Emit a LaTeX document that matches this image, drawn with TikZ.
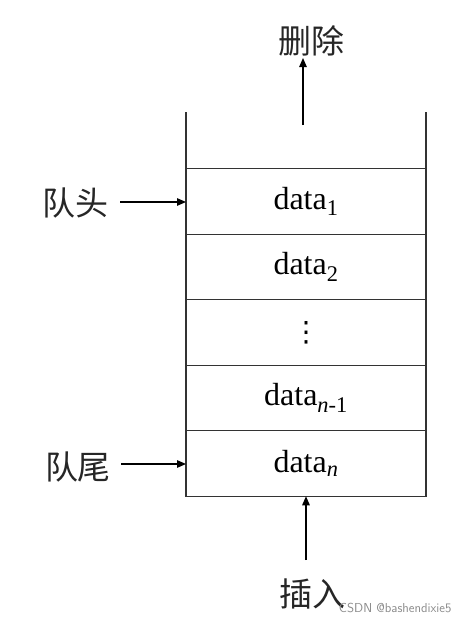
\documentclass[tikz,border=0pt]{standalone}
\usepackage{fontspec}
\setmainfont{Liberation Serif}
\newfontfamily\cjk{Noto Sans CJK SC}
\newfontfamily\symb{DejaVu Sans}
\usetikzlibrary{arrows.meta, positioning}
\definecolor{lineDark}{HTML}{333333}
\definecolor{markGray}{HTML}{8A8A8A}
\tikzset{
  arrowK/.style={-{Triangle[length=9pt, width=7.5pt]}, black, line width=1.2pt},
  cellBox/.style={rectangle, draw=lineDark, line width=1.2pt, minimum width=240pt,
                  minimum height=65.5pt, inner sep=0pt, outer sep=0pt,
                  font=\fontsize{32}{34}\selectfont},
  labelCn/.style={font=\cjk\fontsize{33}{35}\selectfont, text=black!85, inner sep=2pt},
}
\begin{document}
\begin{tikzpicture}[x=1pt, y=-1pt]
    \useasboundingbox (0,0) rectangle (467,624);
    % queue cells
    \node[cellBox] (c1) at (306,201.5) {data\textsubscript{1}};
    \node[cellBox, below=0pt of c1] (c2) {data\textsubscript{2}};
    \node[cellBox, below=0pt of c2, font=\symb\fontsize{28}{30}\selectfont] (c3) {⋮};
    \node[cellBox, below=0pt of c3] (c4) {data\textsubscript{\textit{n}-1}};
    \node[cellBox, below=0pt of c4] (c5) {data\textsubscript{\textit{n}}};
    % open top walls
    \draw[draw=lineDark, line width=1.2pt] (c1.north west) -- ++(0,-57);
    \draw[draw=lineDark, line width=1.2pt] (c1.north east) -- ++(0,-57);
    % labels
    \node[labelCn] (del) at (311,41) {删除};
    \node[labelCn] (ins) at (312,594) {插入};
    \node[labelCn] (head) at (75,203) {队头};
    \node[labelCn] (tail) at (78,467) {队尾};
    \coordinate (delFoot) at (303,125);
    \draw[arrowK] (delFoot) -- (303,58);
    \draw[arrowK] (306,560) -- (c5.south -| 306,0);
    \draw[arrowK] (head.east |- 0,202) ++(10,0) -- (c1.west |- 0,202);
    \draw[arrowK] (tail.east |- 0,464) ++(8,0) -- (c5.west |- 0,464);
    % watermark
    \node[font=\sffamily\fontsize{13}{14}\selectfont, text=markGray, anchor=east] (mark) at (455,608) {CSDN @bashendixie5};
  \end{tikzpicture}
\end{document}
